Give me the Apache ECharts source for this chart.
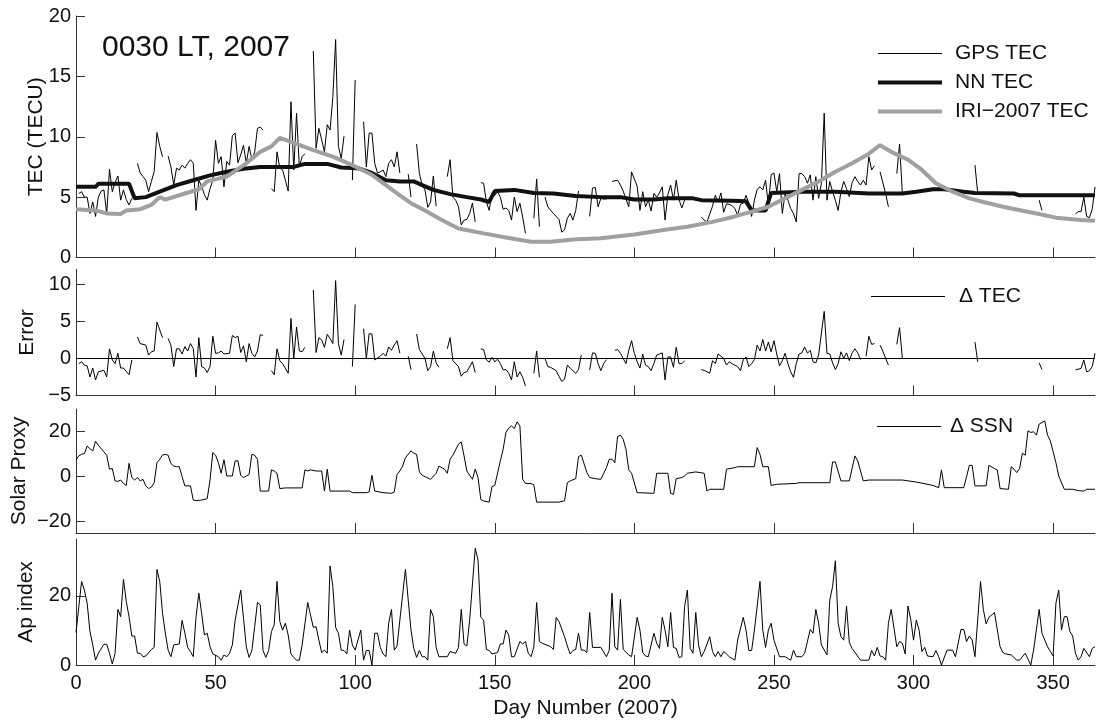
<!DOCTYPE html>
<html>
<head>
<meta charset="utf-8">
<title>0030 LT, 2007</title>
<script src="https://cdn.jsdelivr.net/npm/echarts@6/dist/echarts.min.js"></script>
<style>
  html, body { margin: 0; padding: 0; background: #fff; }
  #chart { width: 1096px; height: 722px; }
</style>
</head>
<body>
<div id="chart"></div>
<script>
// tick labels
const dayTicks = [0, 50, 100, 150, 200, 250, 300, 350];
const tecTicks = [0, 5, 10, 15, 20];
const errTicks = [-5, 0, 5, 10];
const ssnTicks = [-20, 0, 20];
const apTicks = [0, 20];

// [day, value]; null = no GPS data that day
const gpsTec = [
  [1,5.3],[2,5.45],[3,5.0],[4,5.0],[5,3.65],[6,4.6],[7,3.4],[8,5.0],[9,5.5],[10,5.6],[11,3.65],[12,7.3],[13,5.45],[14,6.2],[15,6.75],[16,4.75],[17,5.6],[18,4.8],[19,4.35],[20,4.9],[21,null],
  [22,7.8],[23,7.0],[24,6.7],[25,6.4],[26,5.45],[27,6.3],[28,7.1],[29,10.35],[30,9.2],[31,8.35],[32,null],
  [33,8.4],[34,7.5],[35,6.0],[36,7.4],[37,7.25],[38,7.65],[39,7.4],[40,7.8],[41,8.1],[42,7.8],[43,3.9],[44,6.4],[45,5.9],[46,5.2],[47,4.75],[48,5.7],[49,6.4],[50,9.7],[51,7.8],[52,8.35],[53,5.85],[54,7.95],[55,7.65],[56,10.1],[57,10.3],[58,7.85],[59,8.5],[60,9.3],[61,7.8],[62,9.2],[63,8.1],[64,8.75],[65,10.7],[66,10.8],[67,10.55],[68,null],
  [70,5.7],[71,5.45],[72,8.75],[73,7.4],[74,7.25],[75,6.4],[76,5.5],[77,12.9],[78,7.25],[79,11.95],[80,7.5],[81,8.35],[82,8.6],[83,null],
  [85,17.1],[86,9.05],[87,10.7],[88,9.75],[89,8.75],[90,11.0],[91,10.55],[92,13.3],[93,18.05],[94,9.2],[95,8.2],[96,10.05],[97,null],
  [99,6.4],[100,14.7],[101,null],
  [103,11.25],[104,7.5],[105,10.3],[106,10.3],[107,7.8],[108,7.0],[109,7.1],[110,7.25],[111,6.7],[112,7.8],[113,8.1],[114,7.5],[115,8.75],[116,7.0],[117,null],
  [119,6.9],[120,5.0],[121,null],
  [122,9.4],[123,6.95],[124,6.0],[125,5.6],[126,4.15],[127,4.6],[128,6.75],[129,4.25],[130,null],
  [133,6.7],[134,8.1],[135,5.0],[136,4.75],[137,4.2],[138,2.7],[139,3.1],[140,3.15],[141,3.65],[142,4.5],[143,2.95],[144,null],
  [145,6.2],[146,6.15],[147,4.6],[148,3.9],[149,5.35],[150,5.15],[151,5.45],[152,5.0],[153,4.0],[154,4.1],[155,3.9],[156,3.1],[157,5.0],[158,3.8],[159,4.5],[160,3.35],[161,2.0],[162,null],
  [164,3.25],[165,6.5],[166,2.55],[167,null],
  [168,5.0],[169,4.2],[170,3.9],[171,3.65],[173,3.15],[174,2.1],[175,2.3],[176,3.25],[177,3.65],[178,3.1],[179,3.9],[180,5.5],[181,null],
  [184,3.4],[185,5.75],[186,5.8],[187,4.2],[188,4.9],[189,4.85],[190,4.85],[191,null],
  [192,6.3],[194,6.4],[195,6.0],[196,5.5],[198,4.2],[199,7.1],[201,5.9],[202,3.9],[203,5.45],[204,4.2],[205,4.75],[206,3.85],[207,5.3],[208,5.0],[209,5.35],[210,5.85],[211,3.1],[212,5.2],[213,6.0],[214,4.75],[215,6.4],[216,4.8],[217,4.1],[218,4.75],[219,null],
  [224,3.35],[225,3.1],[226,2.95],[228,4.25],[229,5.15],[230,4.6],[231,5.35],[232,3.75],[233,4.45],[234,4.4],[235,4.3],[236,4.05],[237,3.5],[238,4.4],[239,4.5],[240,5.15],[241,4.5],[242,3.4],[243,4.75],[244,5.65],
  [245,5.85],[246,5.6],[247,6.4],[248,4.35],[249,6.85],[250,7.0],[251,5.45],[252,6.95],[253,3.65],[254,5.3],[255,4.75],[256,4.05],[257,3.65],[258,2.95],[259,6.95],[260,6.95],[261,6.7],[262,6.15],[263,6.85],[264,4.75],[265,6.7],[266,4.9],[267,6.15],[268,11.95],[269,4.75],[270,6.3],[271,5.45],[272,4.75],[273,3.9],[274,5.45],[275,6.3],[276,5.7],[277,5.05],[278,6.2],[279,6.7],[280,6.3],[281,6.0],[282,6.4],[283,6.0],[284,8.35],[285,7.25],[286,7.6],[287,null],
  [288,7.1],[290,5.3],[291,4.2],[292,null],
  [294,6.95],[295,9.4],[296,5.3],[297,null],
  [322,7.65],[323,5.3],[324,null],
  [345,4.75],[346,3.9],[347,null],
  [358,3.6],[359,3.8],[360,3.8],[361,5.0],[362,3.4],[363,3.3],[364,4.0],[365,5.85]
];

const nnTec = [
  [0,5.85],[7,5.85],[8,6.1],[19,6.1],[21,4.9],[25,5.0],[30,5.45],[36,6.0],[42,6.4],[48,6.8],[54,7.1],[60,7.35],[66,7.5],[78,7.5],[82,7.75],[90,7.75],[95,7.45],[101,7.4],[106,7.0],[111,6.4],[116,6.3],[121,6.3],[124,6.0],[128,5.6],[134,5.25],[140,5.0],[145,4.8],[148,4.6],[150,5.5],[157,5.6],[164,5.35],[171,5.3],[179,5.1],[188,5.0],[195,5.0],[200,4.8],[207,4.8],[212,4.9],[221,4.9],[224,4.75],[235,4.7],[240,4.65],[242,3.9],[247,3.9],[249,5.35],[260,5.45],[272,5.45],[284,5.3],[296,5.3],[301,5.45],[307,5.65],[311,5.65],[318,5.45],[322,5.35],[336,5.3],[338,5.15],[365,5.15]
];

const iriTec = [
  [0,4.0],[7,3.9],[11,3.65],[16,3.6],[18,3.9],[23,4.0],[27,4.35],[30,5.0],[32,4.8],[39,5.3],[44,5.65],[47,6.3],[54,6.7],[61,7.8],[66,8.75],[70,9.2],[73,9.9],[78,9.5],[85,8.9],[92,8.35],[99,7.65],[106,6.85],[111,6.0],[116,5.15],[120,4.5],[125,3.9],[131,3.1],[137,2.4],[146,2.0],[154,1.65],[163,1.3],[170,1.3],[178,1.5],[188,1.6],[200,1.9],[211,2.3],[219,2.55],[228,2.95],[236,3.4],[242,3.8],[248,4.2],[254,4.9],[260,5.6],[266,6.3],[272,7.1],[278,7.8],[284,8.6],[288,9.3],[292,8.75],[298,8.1],[303,7.25],[308,6.15],[314,5.45],[320,4.9],[325,4.6],[332,4.2],[344,3.65],[351,3.3],[360,3.1],[365,3.05]
];

const errTec = [
  [1,-0.7],[2,-0.45],[3,-0.9],[4,-1.0],[5,-2.5],[6,-1.3],[7,-2.9],[8,-1.8],[10,-1.6],[11,-2.5],[12,1.3],[13,-0.2],[14,-0.7],[15,0.7],[16,-1.3],[17,-1.3],[19,-2.2],[20,-0.2],[21,null],
  [22,2.9],[23,2.0],[25,1.8],[26,0.45],[27,0.9],[28,1.0],[29,4.9],[31,2.8],[32,null],
  [33,2.7],[34,1.8],[35,-1.1],[36,1.3],[37,1.3],[38,0.6],[39,1.6],[40,1.0],[41,2.0],[42,1.35],[43,-2.5],[44,2.8],[45,-1.1],[46,-1.3],[47,-1.9],[48,-1.1],[49,3.0],[50,0.7],[51,0.75],[52,1.0],[53,0.6],[55,0.7],[56,3.1],[57,2.8],[58,3.0],[59,0.8],[60,1.7],[61,-0.45],[62,2.0],[63,0.7],[64,0.2],[65,1.0],[66,3.2],[67,3.1],[68,null],
  [70,-1.65],[71,-2.2],[72,1.3],[73,-0.3],[74,-0.7],[76,-2.0],[77,5.4],[78,0],[79,4.25],[80,1.0],[81,0.9],[82,1.5],[83,null],
  [85,9.25],[86,0.8],[87,2.8],[88,2.5],[89,1.5],[90,3.25],[91,2.7],[92,2.0],[93,10.5],[94,2.0],[95,0.45],[96,2.55],[97,null],
  [99,-1.1],[100,7.3],[101,null],
  [103,4.0],[104,0],[105,3.35],[106,3.3],[107,-0.2],[109,0.3],[110,0.7],[111,0.3],[112,1.55],[113,1.1],[114,1.8],[115,2.4],[116,0.7],[117,null],
  [119,0.3],[120,-1.5],[121,null],
  [122,3.3],[123,1.2],[125,0],[126,-1.65],[127,-1.1],[128,1.0],[129,-0.6],[130,-1.2],[131,null],
  [133,1.3],[134,2.8],[135,-0.3],[137,-1.1],[138,-2.4],[139,-1.9],[140,-1.8],[142,-0.45],[143,-1.9],[144,null],
  [145,1.3],[146,1.2],[147,-0.2],[148,-0.5],[149,0.15],[150,-0.45],[151,-0.1],[152,-0.7],[153,-1.55],[154,-1.5],[155,-2.0],[156,-2.9],[157,-0.45],[158,-2.5],[159,-1.8],[160,-2.55],[161,-3.7],[162,null],
  [164,-2.0],[165,1.0],[166,-2.55],[167,null],
  [168,0],[169,-1.1],[170,-1.2],[172,-1.65],[173,-2.4],[174,-3.1],[175,-2.8],[176,-0.9],[177,-1.3],[179,-2.0],[180,-1.5],[181,0.45],[182,null],
  [184,-1.55],[185,0.75],[186,0.7],[187,-0.7],[188,-1.65],[189,-0.7],[190,-0.15],[191,null],
  [193,1.1],[194,1.2],[195,0.7],[197,-0.7],[198,1.1],[199,2.4],[200,0.7],[201,-0.45],[202,-1.3],[203,0.6],[204,-0.9],[205,-1.1],[206,-1.65],[207,-0.7],[208,0.45],[209,0.6],[210,0.75],[211,-2.9],[212,0.2],[213,0.2],[214,-1.2],[215,1.5],[216,-0.7],[217,-0.7],[218,-0.3],[219,null],
  [224,-1.5],[225,-1.6],[227,-2.0],[228,-0.3],[229,-0.7],[230,0.6],[232,0],[233,-0.9],[234,-0.45],[235,-0.7],[237,-1.1],[238,-1.65],[239,-0.2],[240,0.2],[241,-1.1],[242,-0.7],[243,-0.15],[244,1.8],[245,1.0],[246,2.55],[247,1.0],[248,2.2],[249,0.9],[250,2.4],[251,0.6],[252,-1.0],[253,-0.3],[254,0.7],[255,-0.7],[256,-1.8],[257,-2.55],[258,-0.7],[259,0.6],[260,0.75],[261,1.55],[262,0.7],[263,1.1],[264,-0.45],[265,-0.6],[266,0.45],[268,6.35],[269,0.7],[270,0.6],[271,-0.6],[272,-1.5],[273,-0.7],[274,0.9],[275,0],[276,0.75],[277,-0.3],[278,0.75],[279,1.3],[280,0.75],[281,-0.15],[282,null],
  [283,0.3],[284,3.0],[285,1.9],[286,2.0],[287,null],
  [288,1.8],[289,1.0],[290,0],[291,-0.9],[292,null],
  [294,1.9],[295,4.15],[296,0],[297,null],
  [322,2.2],[323,-0.45],[324,null],
  [345,-0.6],[346,-1.5],[347,null],
  [358,-1.55],[360,-1.35],[361,-0.2],[362,-1.8],[363,-1.65],[364,-1.1],[365,0.7]
];

const ssnProxy = [
  [0,7.4],[1,9.2],[2,9.9],[3,10.2],[4,13.6],[5,12.4],[6,11.4],[7,15.7],[8,13.9],[10,11.0],[11,9.5],[12,3.3],[13,3.6],[14,-1.9],[15,-2.1],[16,-1.5],[17,-3.0],[18,-3.9],[19,5.9],[20,-0.4],[21,-1.5],[22,-0.4],[23,-1.9],[24,-1.2],[25,-4.1],[26,-5.3],[27,-4.6],[28,-2.7],[29,6.2],[30,7.7],[31,9.6],[32,9.9],[33,9.5],[34,5.8],[35,4.7],[36,4.4],[37,4.4],[38,0],[39,-4.1],[41,-4.1],[42,-10.4],[43,-10.7],[44,-10.5],[45,-10.4],[47,-9.8],[48,-1.5],[49,10.7],[50,9.5],[51,6.2],[52,1.5],[53,7.5],[54,0.3],[56,0.3],[57,7.0],[58,7.0],[59,0.6],[60,-0.4],[61,0.3],[62,0.9],[63,9.9],[64,9.5],[65,7.7],[66,-6.4],[69,-6.4],[70,3.0],[71,2.5],[72,1.5],[73,-5.3],[75,-5.0],[81,-5.0],[82,3.0],[83,2.5],[84,3.0],[86,2.5],[88,2.5],[89,-6.4],[90,3.3],[91,-6.4],[98,-6.4],[99,-7.1],[104,-7.1],[105,-6.8],[106,0.6],[107,-6.4],[110,-7.1],[113,-7.4],[114,-6.8],[115,1.0],[116,2.5],[117,4.7],[118,8.4],[120,11.4],[121,10.4],[122,9.9],[123,2.1],[124,0.6],[127,-1.2],[129,1.5],[130,4.7],[132,3.3],[133,1.5],[134,7.7],[135,9.5],[137,14.4],[138,15.4],[139,9.2],[140,2.5],[142,-1.2],[143,3.3],[144,-0.4],[145,-10.1],[146,-10.8],[148,-11.3],[149,-4.4],[150,-3.9],[152,7.0],[153,12.1],[154,19.6],[155,21.5],[156,22.5],[157,21.3],[158,24.3],[159,22.5],[160,-1.2],[161,-3.0],[163,-3.1],[164,-3.6],[165,-11.3],[173,-11.3],[175,-10.7],[176,-2.7],[177,-1.9],[179,-0.9],[180,8.9],[181,9.5],[183,1.8],[184,-0.4],[186,-0.9],[188,-1.2],[190,4.0],[191,7.7],[192,7.7],[193,6.2],[194,17.8],[195,18.4],[196,16.6],[197,12.1],[198,3.0],[199,1.5],[201,-7.1],[207,-7.4],[208,1.5],[212,1.5],[213,-7.4],[214,-7.9],[215,-0.9],[217,-0.4],[218,0.3],[219,1.5],[222,2.1],[225,1.5],[226,-6.4],[227,-5.6],[232,-5.6],[233,3.3],[236,4.0],[237,4.4],[243,4.4],[244,12.9],[245,9.9],[246,4.4],[248,4.4],[249,-3.9],[251,-3.4],[258,-3.0],[259,-2.7],[270,-2.7],[271,6.5],[272,6.5],[274,-1.9],[277,-1.9],[279,9.2],[280,7.0],[282,-1.9],[284,-1.5],[296,-1.5],[301,-2.4],[307,-3.9],[309,-4.9],[310,3.0],[311,-4.9],[318,-4.9],[320,5.0],[321,5.0],[322,-4.1],[326,-4.1],[327,5.0],[329,3.6],[330,3.0],[331,-5.3],[334,-5.6],[335,4.4],[336,3.3],[337,1.8],[338,3.6],[339,10.4],[340,9.5],[341,20.3],[342,19.6],[343,19.9],[344,18.4],[345,23.3],[347,24.7],[348,18.4],[349,15.9],[351,6.2],[352,0.3],[354,-5.6],[357,-5.6],[359,-6.2],[361,-6.4],[362,-5.6],[365,-5.6]
];

const apIndex = [
  [0,9.4],[2,24.2],[3,21.7],[4,17.9],[5,9.7],[6,5.8],[7,1.4],[8,3.4],[10,6.0],[11,6.0],[12,3.4],[13,0.3],[14,3.4],[15,16.1],[16,14.0],[17,24.8],[18,18.4],[19,14.0],[20,8.4],[21,8.4],[22,3.4],[23,3.4],[24,2.4],[25,2.6],[27,4.5],[28,5.1],[29,27.7],[30,24.2],[31,15.0],[32,9.2],[33,4.3],[34,2.4],[35,5.8],[37,6.1],[38,12.9],[39,9.2],[40,5.1],[41,3.9],[42,2.4],[43,14.0],[44,20.8],[45,15.0],[46,8.7],[47,9.2],[48,5.3],[49,3.2],[51,2.4],[52,1.4],[53,2.9],[54,2.4],[55,3.4],[56,5.8],[57,13.0],[59,21.7],[60,13.5],[61,5.3],[62,2.2],[63,4.2],[64,11.1],[65,18.1],[66,17.4],[67,4.2],[68,2.2],[69,4.2],[70,9.7],[71,11.6],[72,24.2],[73,12.6],[74,10.1],[75,12.1],[76,8.7],[77,3.2],[78,2.2],[79,1.4],[80,1.4],[81,5.8],[83,18.1],[84,14.5],[85,10.9],[86,11.1],[87,7.2],[88,3.6],[89,4.3],[90,3.4],[91,28.7],[92,22.7],[93,10.9],[94,9.2],[95,4.3],[96,4.2],[97,3.2],[98,10.1],[99,5.8],[100,4.3],[102,10.1],[103,1.4],[104,4.2],[105,4.2],[106,0],[107,9.2],[108,9.2],[109,5.1],[110,3.2],[111,2.4],[112,12.1],[113,16.1],[114,4.3],[115,5.5],[116,13.0],[118,27.7],[119,18.8],[120,10.1],[121,4.8],[122,2.2],[123,4.2],[124,2.4],[125,2.4],[126,1.4],[127,16.1],[128,14.0],[129,5.1],[130,2.4],[133,2.4],[134,3.9],[136,3.4],[137,5.1],[138,16.1],[139,6.1],[140,5.5],[141,13.0],[143,33.8],[144,30.4],[145,13.8],[146,13.0],[147,4.5],[148,4.2],[149,3.2],[151,3.6],[152,6.1],[153,6.1],[154,10.1],[155,8.7],[156,2.4],[157,2.4],[159,6.8],[160,6.1],[161,6.8],[162,3.4],[163,2.4],[164,5.3],[165,18.1],[166,6.8],[167,6.3],[170,5.3],[171,4.5],[172,13.8],[173,12.6],[175,8.2],[176,5.5],[177,3.2],[178,4.2],[179,4.5],[180,9.2],[181,4.3],[182,4.3],[183,3.6],[184,15.2],[185,5.1],[188,5.1],[190,2.4],[191,4.2],[192,20.8],[193,5.3],[194,4.3],[195,19.0],[196,4.5],[198,2.9],[199,2.4],[201,13.8],[202,10.1],[203,3.6],[204,2.6],[205,2.4],[207,9.2],[208,6.3],[209,4.8],[210,13.8],[211,10.1],[212,5.3],[213,15.2],[214,5.1],[215,4.8],[216,2.2],[217,2.4],[218,16.9],[219,21.7],[220,4.8],[221,3.4],[222,15.2],[223,5.8],[224,2.4],[225,3.9],[227,8.2],[228,3.9],[229,2.4],[230,3.9],[231,2.4],[232,3.9],[233,3.2],[234,2.4],[236,1.4],[237,7.2],[239,13.8],[240,10.1],[241,4.2],[242,4.2],[243,10.1],[245,24.2],[246,10.1],[247,5.1],[248,10.1],[249,12.1],[250,7.2],[252,2.4],[254,2.4],[256,1.4],[257,4.3],[258,2.4],[260,2.4],[261,3.4],[263,10.3],[264,9.2],[265,16.1],[266,12.1],[267,5.8],[269,2.9],[270,18.8],[271,22.7],[272,30.2],[273,12.1],[274,8.2],[275,7.2],[276,17.1],[277,6.5],[278,4.8],[281,1.4],[284,1.4],[285,4.2],[286,2.6],[287,5.1],[288,2.6],[289,2.4],[290,1.4],[291,12.1],[292,16.1],[294,5.3],[295,6.8],[296,6.3],[297,3.2],[298,17.1],[299,13.2],[300,7.2],[301,13.0],[302,10.1],[303,3.9],[304,5.1],[305,2.6],[307,2.4],[308,4.2],[309,2.4],[310,0],[312,4.3],[314,4.3],[315,2.4],[317,10.3],[318,10.3],[319,6.8],[320,8.4],[321,7.2],[322,2.4],[324,24.2],[325,16.1],[326,11.9],[327,13.8],[329,15.2],[331,5.3],[332,3.6],[333,3.2],[335,2.9],[337,1.4],[338,1.4],[340,3.4],[342,0],[343,4.3],[345,16.1],[346,9.2],[348,5.3],[349,3.9],[350,2.6],[351,17.9],[352,21.7],[353,10.1],[354,14.0],[355,14.0],[356,9.7],[357,8.4],[358,3.4],[359,1.4],[360,2.4],[361,4.8],[363,2.4],[364,4.8],[365,5.3]
];

const FONT = '"Liberation Sans", Arial, Helvetica, sans-serif';
const AXIS_COLOR = '#333';
const TEXT_COLOR = '#111';

function dayAxis(idx, withLabels) {
  return {
    type: 'value',
    gridIndex: idx,
    min: 0,
    max: 365,
    axisLine: { show: true, onZero: false, lineStyle: { color: AXIS_COLOR, width: 1 } },
    axisTick: { show: true, inside: true, length: 10, customValues: dayTicks, lineStyle: { color: AXIS_COLOR } },
    axisLabel: { show: withLabels, customValues: dayTicks, fontSize: 20, color: TEXT_COLOR, fontFamily: FONT, margin: 8 },
    splitLine: { show: false },
    name: withLabels ? 'Day Number (2007)' : '',
    nameLocation: 'middle',
    nameGap: 33,
    nameMoveOverlap: false,
    nameTextStyle: { fontSize: 21, color: TEXT_COLOR, fontFamily: FONT }
  };
}

function valueAxis(idx, min, max, ticks, name, gap) {
  return {
    type: 'value',
    gridIndex: idx,
    min: min,
    max: max,
    name: name,
    nameLocation: 'middle',
    nameRotate: 90,
    nameGap: gap,
    nameMoveOverlap: false,
    nameTextStyle: { fontSize: 21, color: TEXT_COLOR, fontFamily: FONT },
    axisLine: { show: true, onZero: false, lineStyle: { color: AXIS_COLOR, width: 1 } },
    axisTick: { show: true, inside: true, length: 9, customValues: ticks, lineStyle: { color: AXIS_COLOR } },
    axisLabel: {
      customValues: ticks,
      fontSize: 20,
      color: TEXT_COLOR,
      fontFamily: FONT,
      margin: 5,
      formatter: (v) => String(v).replace('-', '\u2212')
    },
    splitLine: { show: false }
  };
}

function lineSeries(name, data, axisIdx, color, width) {
  return {
    name: name,
    type: 'line',
    xAxisIndex: axisIdx,
    yAxisIndex: axisIdx,
    data: data,
    symbol: 'none',
    connectNulls: false,
    lineStyle: { color: color, width: width },
    itemStyle: { color: color }
  };
}

// one legend per entry so each sample line can keep its own thickness
function legendEntry(name, left, top, lineLen, thickness, textPad) {
  return {
    data: [name],
    left: left,
    top: top,
    padding: 0,
    icon: 'rect',
    itemWidth: lineLen,
    itemHeight: thickness,
    selectedMode: false,
    textStyle: { fontSize: 21, color: TEXT_COLOR, fontFamily: FONT, padding: [0, 0, 0, textPad] }
  };
}

const chart = echarts.init(document.getElementById('chart'), null, { renderer: 'canvas' });

const errSeries = lineSeries('\u0394 TEC', errTec, 1, '#000', 1);
errSeries.markLine = {
  silent: true,
  symbol: ['none', 'none'],
  label: { show: false },
  lineStyle: { color: '#000', width: 1, type: 'solid' },
  data: [{ yAxis: 0 }]
};

chart.setOption({
  animation: false,
  backgroundColor: '#fff',
  title: {
    text: '0030 LT, 2007',
    left: 102,
    top: 33,
    padding: 0,
    textStyle: { fontSize: 30, fontWeight: 'normal', color: TEXT_COLOR, fontFamily: FONT }
  },
  legend: [
    legendEntry('GPS TEC', 878, 43, 64, 1, 8),
    legendEntry('NN TEC', 878, 72, 64, 4, 8),
    legendEntry('IRI\u22122007 TEC', 878, 101, 64, 4, 8),
    legendEntry('\u0394 TEC', 871, 286, 74, 1, 9),
    legendEntry('\u0394 SSN', 877, 416, 64, 1, 4)
  ],
  grid: [
    { left: 76, width: 1019, top: 16, height: 241.5 },
    { left: 76, width: 1019, top: 269.5, height: 126 },
    { left: 76, width: 1019, top: 409, height: 124 },
    { left: 76, width: 1019, top: 539, height: 126 }
  ],
  xAxis: [dayAxis(0, false), dayAxis(1, false), dayAxis(2, false), dayAxis(3, true)],
  yAxis: [
    valueAxis(0, 0, 20, tecTicks, 'TEC (TECU)', 29),
    valueAxis(1, -5, 12, errTicks, 'Error', 38),
    valueAxis(2, -25, 30, ssnTicks, 'Solar Proxy', 46),
    valueAxis(3, 0, 36.5, apTicks, 'Ap index', 39)
  ],
  series: [
    lineSeries('GPS TEC', gpsTec, 0, '#000', 1),
    lineSeries('NN TEC', nnTec, 0, '#111', 4),
    lineSeries('IRI\u22122007 TEC', iriTec, 0, '#a0a0a0', 4),
    errSeries,
    lineSeries('\u0394 SSN', ssnProxy, 2, '#000', 1),
    lineSeries('Ap index', apIndex, 3, '#000', 1)
  ]
});
</script>
</body>
</html>
